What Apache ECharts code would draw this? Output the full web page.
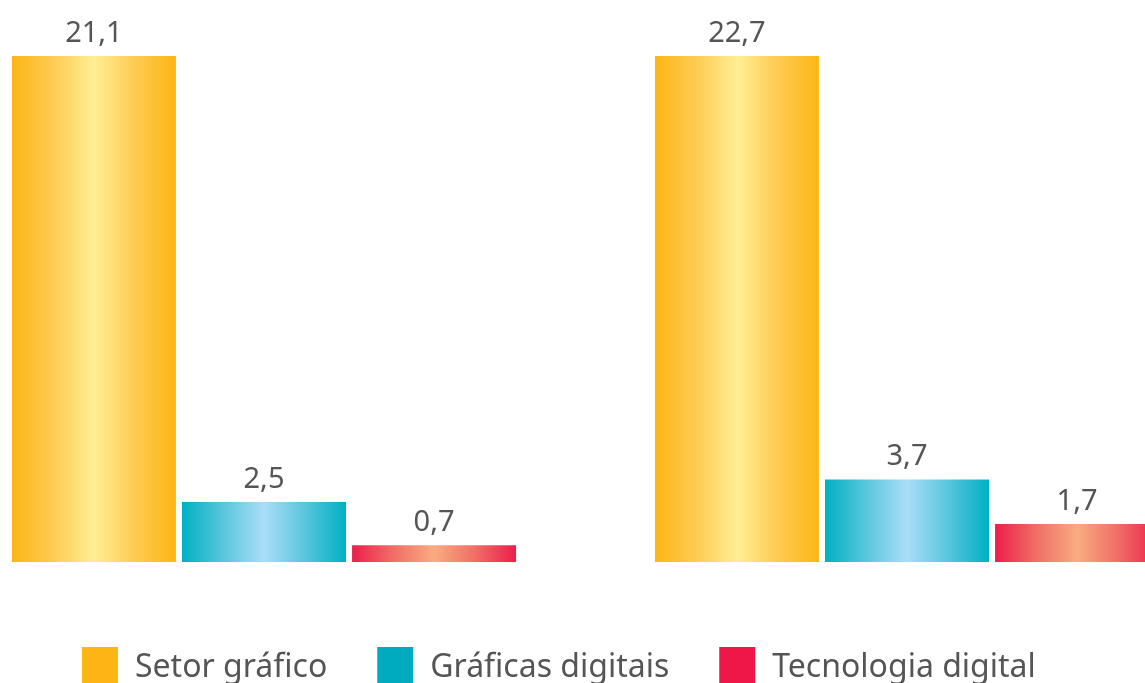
<!DOCTYPE html>
<html>
<head>
<meta charset="utf-8">
<script src="https://cdn.jsdelivr.net/npm/echarts@6/dist/echarts.min.js"></script>
<style>
  html, body { margin: 0; padding: 0; background: #fff; }
  #chart { width: 1145px; height: 683px; }
</style>
</head>
<body>
<div id="chart"></div>
<script>
// dados
var seriesNames = ['Setor gráfico', 'Gráficas digitais', 'Tecnologia digital'];
var groupA = [21.1, 2.5, 0.7];
var groupB = [22.7, 3.7, 1.7];
var legendColors = ['#FDB515', '#00ABBF', '#EE1848'];

// gradientes horizontais (borda escura, centro claro)
function grad(edge, mid, center) {
    return new echarts.graphic.LinearGradient(0, 0, 1, 0, [
        { offset: 0, color: edge },
        { offset: 0.25, color: mid },
        { offset: 0.5, color: center },
        { offset: 0.75, color: mid },
        { offset: 1, color: edge }
    ]);
}
var fills = [
    grad('#FDB515', '#FDCB52', '#FFEE95'),
    grad('#00B0C4', '#58C6DC', '#AADDF8'),
    grad('#EC1E4B', '#F06E66', '#F8AC80')
];

var font = 'Noto Sans';
var element = document.getElementById('chart');
var chart = echarts.init(element);

var groups = [groupA, groupB];
var series = [];
for (var g = 0; g < groups.length; g++) {
    for (var s = 0; s < seriesNames.length; s++) {
        series.push({
            name: seriesNames[s],
            type: 'bar',
            xAxisIndex: g,
            yAxisIndex: g,
            barWidth: 164,
            barGap: '3.7%',
            clip: false,
            data: [groups[g][s]],
            itemStyle: { color: fills[s] },
            label: {
                show: true,
                position: 'top',
                distance: 8,
                fontFamily: font,
                fontSize: 29,
                color: '#555',
                formatter: function (p) {
                    return String(p.value).replace('.', ',');
                }
            },
            silent: true
        });
    }
}

var option = {
    animation: false,
    backgroundColor: '#fff',
    grid: [
        // o segundo grupo sai pela direita da figura: centro em 907
        { left: 12, top: 56, right: 629, height: 506 },
        { left: 669, top: 56, right: 0, height: 506 }
    ],
    xAxis: [0, 1].map(function (i) {
        return { type: 'category', gridIndex: i, data: [''], show: false };
    }),
    yAxis: [0, 1].map(function (i) {
        return {
            type: 'value', gridIndex: i, min: 0,
            max: Math.max.apply(null, groups[i]),
            show: false
        };
    }),
    legend: {
        left: 77,
        top: 642,
        itemWidth: 36,
        itemHeight: 42,
        itemGap: 50,
        icon: 'rect',
        data: seriesNames.map(function (n, i) {
            return { name: n, itemStyle: { color: legendColors[i] } };
        }),
        textStyle: { fontFamily: font, fontSize: 32, color: '#555', padding: [0, 0, 0, 12] }
    },
    series: series
};
chart.setOption(option);
</script>
</body>
</html>
